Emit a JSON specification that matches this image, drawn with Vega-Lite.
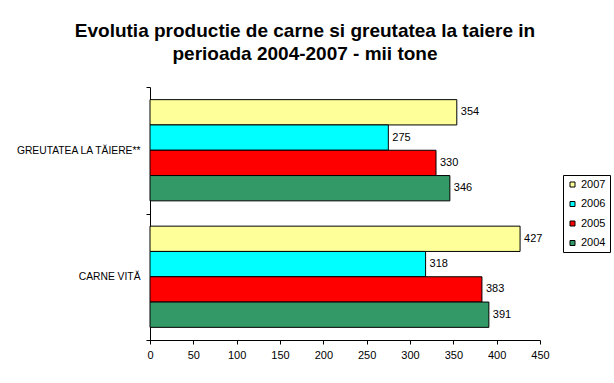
{
  "$schema": "https://vega.github.io/schema/vega-lite/v6.json",
  "width": 390,
  "height": 253,
  "autosize": {"type": "none"},
  "padding": {"left": 150, "top": 87, "right": 74, "bottom": 43},
  "background": "white",
  "title": {
    "text": ["Evolutia productie de carne si greutatea la taiere in", "perioada 2004-2007 - mii tone"],
    "font": "Liberation Sans",
    "fontSize": 19,
    "fontWeight": "bold",
    "lineHeight": 23,
    "color": "black",
    "anchor": "middle",
    "dx": -40,
    "offset": 18
  },
  "data": {
    "values": [
      {"categorie": "GREUTATEA LA TĂIERE**", "an": "2007", "valoare": 354},
      {"categorie": "GREUTATEA LA TĂIERE**", "an": "2006", "valoare": 275},
      {"categorie": "GREUTATEA LA TĂIERE**", "an": "2005", "valoare": 330},
      {"categorie": "GREUTATEA LA TĂIERE**", "an": "2004", "valoare": 346},
      {"categorie": "CARNE VITĂ", "an": "2007", "valoare": 427},
      {"categorie": "CARNE VITĂ", "an": "2006", "valoare": 318},
      {"categorie": "CARNE VITĂ", "an": "2005", "valoare": 383},
      {"categorie": "CARNE VITĂ", "an": "2004", "valoare": 391}
    ]
  },
  "encoding": {
    "y": {
      "field": "categorie",
      "type": "nominal",
      "sort": ["GREUTATEA LA TĂIERE**", "CARNE VITĂ"],
      "scale": {"paddingInner": 0, "paddingOuter": 0},
      "axis": {
        "title": null,
        "domain": true,
        "domainWidth": 1,
        "tickBand": "extent",
        "tickSize": 4,
        "labelPadding": 6,
        "domainColor": "black",
        "tickColor": "black",
        "labelColor": "black",
        "labelFont": "Liberation Sans",
        "labelFontSize": 10.3
      }
    },
    "yOffset": {
      "field": "an",
      "type": "nominal",
      "sort": ["2007", "2006", "2005", "2004"],
      "scale": {"paddingInner": 0, "paddingOuter": 0.5}
    },
    "x": {
      "field": "valoare",
      "type": "quantitative",
      "scale": {"domain": [0, 450], "nice": false},
      "axis": {
        "title": null,
        "values": [0, 50, 100, 150, 200, 250, 300, 350, 400, 450],
        "grid": false,
        "tickSize": 4,
        "labelPadding": 5,
        "domainColor": "black",
        "tickColor": "black",
        "labelColor": "black",
        "labelFont": "Liberation Sans",
        "labelFontSize": 11,
        "labelFlush": false
      }
    }
  },
  "layer": [
    {
      "mark": {"type": "bar", "stroke": "black", "strokeWidth": 1},
      "encoding": {
        "color": {
          "field": "an",
          "type": "nominal",
          "scale": {
            "domain": ["2007", "2006", "2005", "2004"],
            "range": ["#FFFF99", "#00FFFF", "#FF0000", "#339966"]
          },
          "legend": {
            "title": null,
            "orient": "none",
            "legendX": 413,
            "legendY": 88,
            "symbolType": "square",
            "symbolSize": 25,
            "symbolStrokeColor": "black",
            "symbolStrokeWidth": 1,
            "labelFont": "Liberation Sans",
            "labelFontSize": 11,
            "labelColor": "black",
            "labelOffset": 3,
            "rowPadding": 7.5,
            "strokeColor": "black",
            "padding": 4,
            "fillColor": "white"
          }
        }
      }
    },
    {
      "mark": {
        "type": "text",
        "align": "left",
        "baseline": "middle",
        "dx": 4,
        "font": "Liberation Sans",
        "fontSize": 11,
        "color": "black"
      },
      "encoding": {"text": {"field": "valoare", "type": "quantitative"}}
    }
  ],
  "config": {"view": {"stroke": null}}
}
